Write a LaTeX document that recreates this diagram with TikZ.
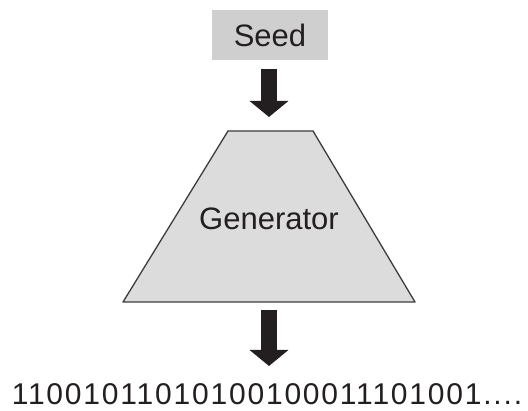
\documentclass[tikz,border=0pt]{standalone}
\usepackage{fontspec}
\setmainfont{Liberation Sans}
\usetikzlibrary{arrows.meta}
\definecolor{ink}{HTML}{231F20}
\definecolor{boxgray}{HTML}{CFCFD0}
\definecolor{bodygray}{HTML}{DCDCDD}
\definecolor{edgegray}{HTML}{3C3C3C}
\tikzset{
  label text/.style={font=\fontsize{31}{36}\selectfont, text=ink, inner sep=0pt},
  bit text/.style={font=\fontsize{30}{36}\selectfont\addfontfeatures{LetterSpace=6},
    text=ink, inner sep=0pt},
  seedbox/.style={fill=boxgray, minimum width=116pt, minimum height=50pt, inner sep=0pt},
  blockarrow/.style={draw=ink, line width=16pt,
    -{Triangle[width=38pt,length=16pt]}}
}
\begin{document}
\begin{tikzpicture}[x=1pt,y=-1pt]
  \useasboundingbox (0,0) rectangle (528,411);
  % seed input
  \node[seedbox] (seed) at (270,35) {};
  \node[label text] (seedtext) at (seed.center) {Seed};
  % generator body
  \draw[fill=bodygray, draw=edgegray, line width=1.3pt, line join=round]
    (228,131) -- (313,131) -- (415,302) -- (123,302) -- cycle;
  \node[label text] (gen) at (269,219) {Generator};
  % output bit stream
  \node[bit text, anchor=base] (bits) at (267,405)
    {11001011010100100011101001....};
  % block arrows
  \coordinate (a1s) at (269,69);
  \coordinate (a1e) at (269,117);
  \coordinate (a2s) at (269,310);
  \coordinate (a2e) at (269,366);
  \draw[blockarrow] (a1s) -- (a1e);
  \draw[blockarrow] (a2s) -- (a2e);
\end{tikzpicture}
\end{document}
